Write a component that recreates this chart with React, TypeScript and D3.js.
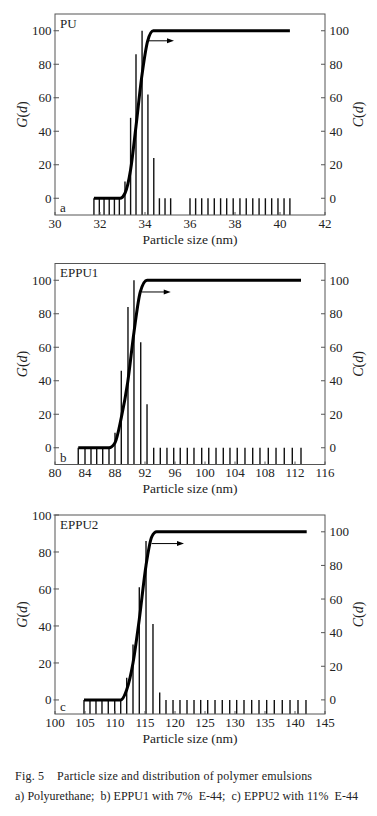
import React from 'react';
import * as d3 from 'd3';

const W = 377;
const H = 816;
const FONT = '"Liberation Serif", "DejaVu Serif", serif';

// ---------- Panel a: PU ----------
const sizesA = [31.73, 31.97, 32.18, 32.41, 32.64, 32.86, 33.11, 33.36, 33.6, 33.87, 34.13, 34.39, 34.64, 34.89, 35.14,
  36.0, 36.25, 36.52, 36.8, 37.08, 37.36, 37.63, 37.92, 38.22, 38.5, 38.79, 39.07, 39.35, 39.63, 39.91, 40.18, 40.44];
const gA = [0, 0, 0, 0, 0, 0, 10, 48, 86, 100, 62, 24, 0, 0, 0,
  0, 0, 0, 0, 0, 0, 0, 0, 0, 0, 0, 0, 0, 0, 0, 0, 0];
const cumSizesA = [31.73, 32.89, 33.11, 33.36, 33.6, 33.85, 34.12, 34.37, 40.44];
const cumA = [0, 0, 3, 17, 43, 72, 94, 100, 100];
const xTicksA = [30, 32, 34, 36, 38, 40, 42];
const arrowA = [34.12, 35.29, 94];

// ---------- Panel b: EPPU1 ----------
const sizesB = [83.1, 84.0, 84.8, 85.56, 86.36, 87.2, 88.0, 88.84, 89.73, 90.53, 91.43, 92.27, 93.16, 94.04, 94.93,
  95.83, 96.7, 97.64, 98.53, 99.56, 100.5, 101.47, 102.44, 103.33, 104.3, 105.33, 106.36, 107.33, 108.44, 109.47,
  110.57, 111.64, 112.8];
const gB = [0, 0, 0, 0, 0, 0, 9, 46, 84, 100, 63, 26, 0, 0, 0,
  0, 0, 0, 0, 0, 0, 0, 0, 0, 0, 0, 0, 0, 0, 0, 0, 0, 0];
const cumSizesB = [83.1, 87.2, 88.0, 88.84, 89.69, 90.53, 91.37, 92.27, 112.8];
const cumB = [0, 0, 3, 18, 39, 69, 93, 100, 100];
const xTicksB = [80, 84, 88, 92, 96, 100, 104, 108, 112, 116];
const arrowB = [91.56, 95.43, 93];

// ---------- Panel c: EPPU2 ----------
const sizesC = [104.83, 105.83, 106.83, 107.83, 108.88, 109.95, 110.95, 111.95, 113.0, 114.05, 115.17, 116.33, 117.45,
  118.5, 119.67, 120.83, 122.0, 123.17, 124.28, 125.45, 126.67, 127.88, 129.12, 130.28, 131.5, 132.78, 134.0,
  135.28, 136.55, 137.88, 139.17, 140.5, 141.83];
const gC = [0, 0, 0, 0, 0, 0, 0, 12, 30, 61, 86, 41, 4,
  0, 0, 0, 0, 0, 0, 0, 0, 0, 0, 0, 0, 0, 0, 0, 0, 0, 0, 0, 0];
const cumSizesC = [104.83, 110.95, 111.95, 113.0, 114.05, 115.17, 116.12, 116.95, 141.95];
const cumC = [0, 0, 6, 22, 48, 80, 97, 100, 100];
const xTicksC = [100, 105, 110, 115, 120, 125, 130, 135, 140, 145];
const arrowC = [116.1, 121.5, 93];

const yTicks = [0, 20, 40, 60, 80, 100];

const captionLine1 = 'Fig. 5    Particle size and distribution of polymer emulsions';
const captionLine2 = 'a) Polyurethane;  b) EPPU1 with 7%  E-44;  c) EPPU2 with 11%  E-44';

type PanelProps = {
  top: number;
  bottom: number;
  xDomain: [number, number];
  xTicks: number[];
  gDomain: [number, number];
  cDomain: [number, number];
  sizes: number[];
  g: number[];
  cumSizes: number[];
  cum: number[];
  arrow: number[];
  name: string;
  letter: string;
  id: string;
};

const LEFT = 55;
const RIGHT = 325;
const AXIS = '#555';

function Panel(p: PanelProps) {
  const x = d3.scaleLinear().domain(p.xDomain).range([LEFT, RIGHT]);
  const yG = d3.scaleLinear().domain(p.gDomain).range([p.bottom, p.top]);
  const yC = d3.scaleLinear().domain(p.cDomain).range([p.bottom, p.top]);
  const line = d3
    .line<number>()
    .x((_, i) => x(p.cumSizes[i]))
    .y((v) => yC(v))
    .curve(d3.curveMonotoneX);
  const midY = (p.top + p.bottom) / 2;
  const [ax0, ax1, ac] = p.arrow;
  return (
    <g>
      {/* bars */}
      {p.sizes.map((s, i) => (
        <line key={'b' + i} x1={x(s)} x2={x(s)} y1={p.bottom} y2={yG(p.g[i])} stroke="#111" strokeWidth={1.4} />
      ))}
      {/* bottom ticks */}
      {p.xTicks.map((t) => (
        <line key={'xt' + t} x1={x(t)} x2={x(t)} y1={p.bottom} y2={p.bottom - 3} stroke={AXIS} strokeWidth={1} />
      ))}
      {/* left ticks */}
      {yTicks.map((t) => (
        <line key={'lt' + t} x1={LEFT - 1.5} x2={LEFT + 4} y1={yG(t)} y2={yG(t)} stroke={AXIS} strokeWidth={1} />
      ))}
      {/* right ticks */}
      {yTicks.map((t) => (
        <line key={'rt' + t} x1={RIGHT - 4} x2={RIGHT} y1={yC(t)} y2={yC(t)} stroke={AXIS} strokeWidth={1} />
      ))}
      {/* frame */}
      <rect x={LEFT} y={p.top} width={RIGHT - LEFT} height={p.bottom - p.top} fill="none" stroke={AXIS} strokeWidth={1} />
      {/* cumulative curve */}
      <path d={line(p.cum) || ''} fill="none" stroke="#000" strokeWidth={3} strokeLinejoin="round" />
      {/* arrow */}
      <line x1={x(ax0)} x2={x(ax1) - 5} y1={yC(ac)} y2={yC(ac)} stroke="#000" strokeWidth={1} />
      <path
        d={`M${x(ax1)},${yC(ac)} L${x(ax1) - 7},${yC(ac) - 2.5} L${x(ax1) - 7},${yC(ac) + 2.5} Z`}
        fill="#000"
      />
      {/* left tick labels */}
      {yTicks.map((t) => (
        <text key={'ll' + t} x={LEFT - 3.5} y={yG(t)} dy="0.35em" textAnchor="end" fontSize={13} fontFamily={FONT} fill="#222">
          {t}
        </text>
      ))}
      {/* right tick labels */}
      {yTicks.map((t) => (
        <text key={'rl' + t} x={RIGHT + 4.5} y={yC(t)} dy="0.35em" textAnchor="start" fontSize={13} fontFamily={FONT} fill="#222">
          {t}
        </text>
      ))}
      {/* x tick labels */}
      {p.xTicks.map((t) => (
        <text key={'xl' + t} x={x(t)} y={p.bottom + 12.5} textAnchor="middle" fontSize={13} fontFamily={FONT} fill="#222">
          {t}
        </text>
      ))}
      <text x={(LEFT + RIGHT) / 2} y={p.bottom + 28.5} textAnchor="middle" fontSize={13.5} fontFamily={FONT} fill="#222">
        Particle size (nm)
      </text>
      {/* axis titles */}
      <text transform={`translate(27,${midY}) rotate(-90)`} textAnchor="middle" fontSize={14} fontFamily={FONT} fill="#222">
        <tspan fontStyle="italic">G</tspan>(<tspan fontStyle="italic">d</tspan>)
      </text>
      <text transform={`translate(363,${midY}) rotate(-90)`} textAnchor="middle" fontSize={14} fontFamily={FONT} fill="#222">
        <tspan fontStyle="italic">C</tspan>(<tspan fontStyle="italic">d</tspan>)
      </text>
      {/* panel names */}
      <text x={LEFT + 5} y={p.top + 13.5} fontSize={13} fontFamily={FONT} fill="#222">
        {p.name}
      </text>
      <text x={LEFT + 5} y={p.bottom - 3} fontSize={13} fontFamily={FONT} fill="#222">
        {p.letter}
      </text>
    </g>
  );
}

export default function App() {
  return (
    <svg width={W} height={H} style={{ position: 'absolute', left: 0, top: 0, background: '#fff' }}>
      <rect x={0} y={0} width={W} height={H} fill="#fff" />
      <Panel
        id="a"
        top={14}
        bottom={215}
        xDomain={[30, 42]}
        xTicks={xTicksA}
        gDomain={[-10, 110]}
        cDomain={[-10, 110]}
        sizes={sizesA}
        g={gA}
        cumSizes={cumSizesA}
        cum={cumA}
        arrow={arrowA}
        name="PU"
        letter="a"
      />
      <Panel
        id="b"
        top={263.5}
        bottom={464.5}
        xDomain={[80, 116]}
        xTicks={xTicksB}
        gDomain={[-10, 110]}
        cDomain={[-10, 110]}
        sizes={sizesB}
        g={gB}
        cumSizes={cumSizesB}
        cum={cumB}
        arrow={arrowB}
        name="EPPU1"
        letter="b"
      />
      <Panel
        id="c"
        top={515}
        bottom={714}
        xDomain={[100, 145]}
        xTicks={xTicksC}
        gDomain={[-7.6, 100]}
        cDomain={[-8.4, 110]}
        sizes={sizesC}
        g={gC}
        cumSizes={cumSizesC}
        cum={cumC}
        arrow={arrowC}
        name="EPPU2"
        letter="c"
      />
      <text x={15} y={780} fontSize={12} fontFamily={FONT} fill="#222" textLength={297} lengthAdjust="spacing" style={{ whiteSpace: 'pre' }}>
        {captionLine1}
      </text>
      <text x={15} y={800} fontSize={12} fontFamily={FONT} fill="#222" textLength={343} lengthAdjust="spacing" style={{ whiteSpace: 'pre' }}>
        {captionLine2}
      </text>
    </svg>
  );
}
